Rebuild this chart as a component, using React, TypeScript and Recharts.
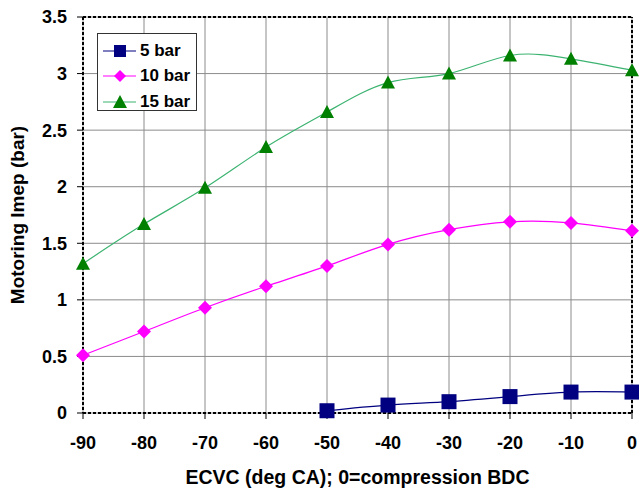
import {
  CartesianGrid,
  Label,
  Line,
  LineChart,
  ReferenceLine,
  XAxis,
  YAxis,
} from "recharts";

const ecvc = [-90, -80, -70, -60, -50, -40, -30, -20, -10, 0];
const imep5 = [null, null, null, null, 0.02, 0.07, 0.1, 0.145, 0.185, 0.185];
const imep10 = [0.51, 0.72, 0.93, 1.12, 1.3, 1.49, 1.62, 1.69, 1.68, 1.61];
const imep15 = [1.32, 1.67, 1.99, 2.35, 2.66, 2.92, 3.0, 3.16, 3.13, 3.03];
const xTicks = [-90, -80, -70, -60, -50, -40, -30, -20, -10, 0];
const yTicks = [0, 0.5, 1, 1.5, 2, 2.5, 3, 3.5];

const rows = ecvc.map((x, i) => ({ x, b5: imep5[i], b10: imep10[i], b15: imep15[i] }));

const FONT = '"Liberation Sans", Arial, sans-serif';

type DotProps = { cx?: number; cy?: number; value?: number | null; key?: string };

function Square(p: DotProps) {
  if (p.cx == null || p.cy == null || p.value == null) return <g key={p.key} />;
  return <rect key={p.key} x={p.cx - 7.5} y={p.cy - 7.5} width={15} height={15} fill="#000080" />;
}

function Diamond(p: DotProps) {
  if (p.cx == null || p.cy == null) return <g key={p.key} />;
  const { cx, cy } = p;
  return (
    <polygon key={p.key} points={`${cx},${cy - 7} ${cx + 7},${cy} ${cx},${cy + 7} ${cx - 7},${cy}`} fill="#ff00ff" />
  );
}

function Triangle(p: DotProps) {
  if (p.cx == null || p.cy == null) return <g key={p.key} />;
  const { cx, cy } = p;
  return (
    <polygon key={p.key} points={`${cx},${cy - 7} ${cx + 7},${cy + 6} ${cx - 7},${cy + 6}`} fill="#008000" />
  );
}

const legendItems = [
  { name: "5 bar", line: "#000080", mark: "square" },
  { name: "10 bar", line: "#ff00ff", mark: "diamond" },
  { name: "15 bar", line: "#3cb371", mark: "triangle" },
];

// legend drawn as an overlay so it does not eat into the plot height
function LegendBox() {
  return (
    <div
      style={{
        position: "absolute",
        left: 97,
        top: 33,
        width: 100,
        height: 78,
        border: "1px solid #333",
        background: "#fff",
        fontFamily: FONT,
        fontWeight: "bold",
        fontSize: 17,
        boxSizing: "border-box",
        paddingTop: 4,
      }}
    >
      {legendItems.map((it) => (
        <div key={it.name} style={{ display: "flex", alignItems: "center", height: 25.5 }}>
          <svg width={42} height={16}>
            <line x1={5} x2={38} y1={8} y2={8} stroke={it.line} strokeWidth={1.2} />
            {it.mark === "square" && <rect x={16} y={2} width={12} height={12} fill="#000080" />}
            {it.mark === "diamond" && <polygon points="22,2 28,8 22,14 16,8" fill="#ff00ff" />}
            {it.mark === "triangle" && <polygon points="22,1 29,14 15,14" fill="#008000" />}
          </svg>
          <span>{it.name}</span>
        </div>
      ))}
    </div>
  );
}

const tickStyle = { fill: "#000", fontSize: 18, fontWeight: "bold", fontFamily: FONT };

export default function App() {
  return (
    <div style={{ position: "absolute", left: 0, top: 0, width: 639, height: 490, background: "#fff" }}>
      <LineChart width={639} height={490} data={rows} margin={{ top: 17, right: 7, bottom: 0, left: 0 }}>
        <CartesianGrid stroke="#8c8c8c" strokeWidth={1} />
        <XAxis
          dataKey="x"
          type="number"
          domain={[-90, 0]}
          ticks={xTicks}
          height={77}
          tickSize={6}
          tickMargin={17}
          tick={tickStyle}
          axisLine={{ stroke: "#000", strokeWidth: 2, strokeDasharray: "3 2" }}
          tickLine={{ stroke: "#000" }}
        >
          <Label
            content={({ viewBox }: any) => (
              <text
                x={viewBox.x + viewBox.width / 2}
                y={viewBox.y + 71}
                textAnchor="middle"
                fontFamily={FONT}
                fontWeight="bold"
                fontSize={19.5}
                fill="#000"
              >
                ECVC (deg CA); 0=compression BDC
              </text>
            )}
          />
        </XAxis>
        <YAxis
          type="number"
          domain={[0, 3.5]}
          ticks={yTicks}
          width={83}
          tickSize={6}
          tickMargin={10}
          tick={tickStyle}
          axisLine={{ stroke: "#000", strokeWidth: 2, strokeDasharray: "3 2" }}
          tickLine={{ stroke: "#000" }}
        >
          <Label
            content={({ viewBox }: any) => {
              const x = 24;
              const y = viewBox.y + viewBox.height / 2;
              return (
                <text
                  x={x}
                  y={y}
                  transform={`rotate(-90 ${x} ${y})`}
                  textAnchor="middle"
                  fontFamily={FONT}
                  fontWeight="bold"
                  fontSize={19}
                  fill="#000"
                >
                  Motoring Imep (bar)
                </text>
              );
            }}
          />
        </YAxis>
        <ReferenceLine y={3.5} stroke="#000" strokeWidth={2} strokeDasharray="3 2" />
        <ReferenceLine x={0} stroke="#000" strokeWidth={2} strokeDasharray="3 2" />
        <Line
          dataKey="b15"
          name="15 bar"
          type="natural"
          stroke="#3cb371"
          strokeWidth={1.2}
          dot={Triangle}
          activeDot={false}
          isAnimationActive={false}
        />
        <Line
          dataKey="b10"
          name="10 bar"
          type="natural"
          stroke="#ff00ff"
          strokeWidth={1.2}
          dot={Diamond}
          activeDot={false}
          isAnimationActive={false}
        />
        <Line
          dataKey="b5"
          name="5 bar"
          type="natural"
          stroke="#000080"
          strokeWidth={1.2}
          dot={Square}
          activeDot={false}
          connectNulls={false}
          isAnimationActive={false}
        />
      </LineChart>
      <LegendBox />
    </div>
  );
}
